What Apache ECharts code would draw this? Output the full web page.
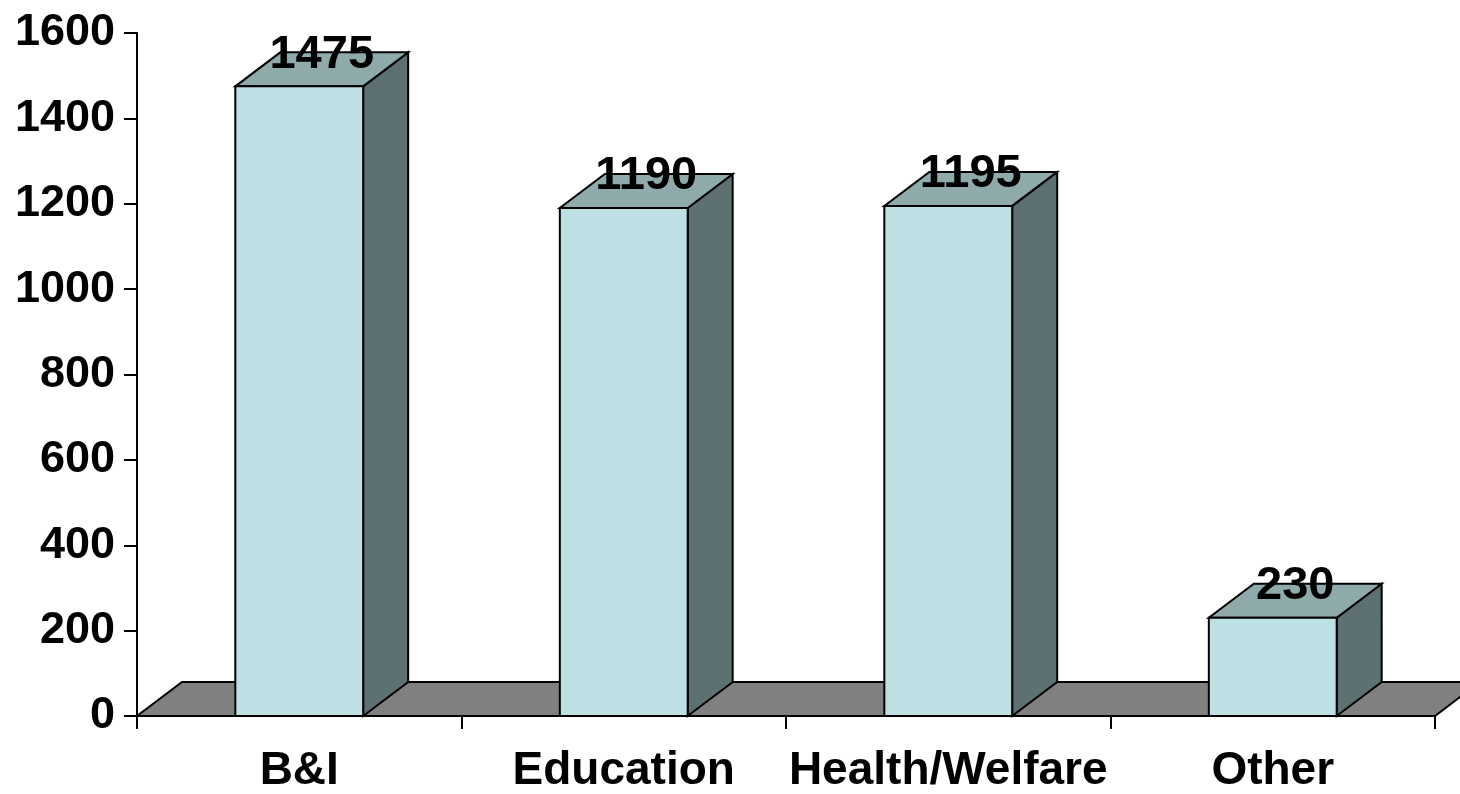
<!DOCTYPE html>
<html>
<head>
<meta charset="utf-8">
<script src="https://cdn.jsdelivr.net/npm/echarts@6/dist/echarts.min.js"></script>
<style>
  html, body { margin: 0; padding: 0; background: #ffffff; }
  #chart { width: 1460px; height: 794px; }
</style>
</head>
<body>
<div id="chart"></div>
<script>
// Sector totals
const categories = ['B&I', 'Education', 'Health/Welfare', 'Other'];
const values = [1475, 1190, 1195, 230];
const yMin = 0, yMax = 1600, yStep = 200;

// Box look: oblique depth offset and face colours
const DEPTH_X = 45, DEPTH_Y = 34;
const FRONT = '#bce0e3', TOP = '#8faaab', SIDE = '#5e7172', FLOOR = '#808080';
const EDGE = { stroke: '#000000', lineWidth: 2 };
const FONT = '"Liberation Sans", Arial, Helvetica, sans-serif';

const chart = echarts.init(document.getElementById('chart'), null, { renderer: 'canvas' });

function renderFloor(params, api) {
  const cs = params.coordSys;
  const yb = cs.y + cs.height;
  const xl = cs.x, xr = cs.x + cs.width;
  return {
    type: 'polygon',
    shape: { points: [[xl, yb], [xr, yb], [xr + DEPTH_X, yb - DEPTH_Y], [xl + DEPTH_X, yb - DEPTH_Y]] },
    style: Object.assign({ fill: FLOOR }, EDGE)
  };
}

function renderBox(params, api) {
  const cat = api.value(0), v = api.value(1);
  const base = api.coord([cat, 0]);
  const top = api.coord([cat, v]);
  const w = api.size([1, 0])[0] * 0.394;
  const x0 = base[0] - w / 2, x1 = base[0] + w / 2;
  const yb = base[1], yt = top[1];
  return {
    type: 'group',
    children: [
      {
        type: 'polygon',
        shape: { points: [[x1, yb], [x1 + DEPTH_X, yb - DEPTH_Y], [x1 + DEPTH_X, yt - DEPTH_Y], [x1, yt]] },
        style: Object.assign({ fill: SIDE }, EDGE)
      },
      {
        type: 'polygon',
        shape: { points: [[x0, yt], [x1, yt], [x1 + DEPTH_X, yt - DEPTH_Y], [x0 + DEPTH_X, yt - DEPTH_Y]] },
        style: Object.assign({ fill: TOP }, EDGE)
      },
      {
        type: 'rect',
        shape: { x: x0, y: yt, width: w, height: yb - yt },
        style: Object.assign({ fill: FRONT }, EDGE)
      },
      {
        type: 'text',
        x: base[0] + DEPTH_X / 2,
        y: yt - DEPTH_Y / 2 + 9,
        style: {
          text: String(v),
          fill: '#000000',
          font: 'bold 47px ' + FONT,
          align: 'center',
          verticalAlign: 'bottom'
        }
      }
    ]
  };
}

chart.setOption({
  animation: false,
  backgroundColor: '#ffffff',
  grid: { left: 137, right: 25, top: 33, bottom: 75, containLabel: false },
  xAxis: {
    type: 'category',
    data: categories,
    boundaryGap: true,
    axisLine: { show: false },
    axisTick: { show: true, length: 13, alignWithLabel: false, lineStyle: { color: '#000', width: 2 } },
    axisLabel: {
      margin: 32,
      color: '#000',
      fontFamily: FONT,
      fontWeight: 'bold',
      fontSize: 46,
      interval: 0
    },
    splitLine: { show: false }
  },
  yAxis: {
    type: 'value',
    min: yMin,
    max: yMax,
    interval: yStep,
    axisLine: { show: true, lineStyle: { color: '#000', width: 2 } },
    axisTick: { show: true, length: 13, inside: false, lineStyle: { color: '#000', width: 2 } },
    axisLabel: {
      margin: 22,
      color: '#000',
      fontFamily: FONT,
      fontWeight: 'bold',
      fontSize: 45,
      formatter: v => String(v)
    },
    splitLine: { show: false }
  },
  series: [
    {
      type: 'custom',
      z: 1,
      renderItem: renderFloor,
      data: [[0, 0]],
      silent: true
    },
    {
      type: 'custom',
      z: 2,
      renderItem: renderBox,
      data: values.map((v, i) => [i, v]),
      encode: { x: 0, y: 1 },
      silent: true
    }
  ]
});
</script>
</body>
</html>
